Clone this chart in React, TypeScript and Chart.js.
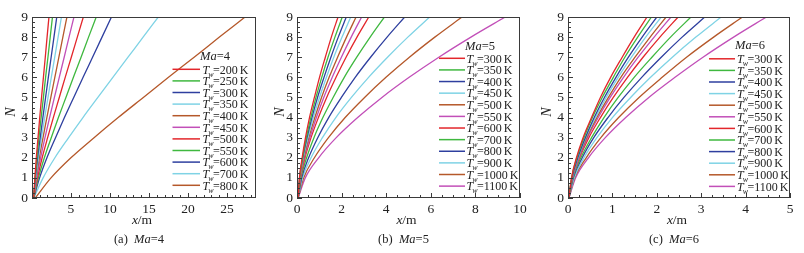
import React, { useEffect, useRef } from 'react';
import { Chart, registerables } from 'chart.js';

Chart.register(...registerables);

const FONT = '"Liberation Serif", "Times New Roman", serif';

// Shared N levels (y values) at which each curve's x position was read
const N_LEVELS = [0, 1, 2, 3, 4, 5, 6, 7, 8, 9];
const Y_TICKS = [0, 1, 2, 3, 4, 5, 6, 7, 8, 9];

const COLORS = ['#e3262b', '#3fb83f', '#2e3f9f', '#7fd3e5', '#b5582a', '#c24fb8'];

// ---- (a) Ma = 4 ----
const MA4_TW = [200, 250, 300, 350, 400, 450, 500, 550, 600, 700, 800];
const MA4_X_TICKS = [5, 10, 15, 20, 25];
const MA4_X = [
  [0.25, 0.40, 0.58, 0.80, 1.02, 1.25, 1.49, 1.73, 1.96, 2.2],
  [0.25, 0.43, 0.66, 0.92, 1.20, 1.49, 1.77, 2.07, 2.36, 2.65],
  [0.25, 0.47, 0.75, 1.08, 1.42, 1.77, 2.12, 2.48, 2.84, 3.2],
  [0.25, 0.52, 0.85, 1.24, 1.65, 2.08, 2.50, 2.94, 3.37, 3.8],
  [0.25, 0.57, 0.97, 1.44, 1.93, 2.44, 2.95, 3.47, 3.98, 4.5],
  [0.25, 0.64, 1.13, 1.69, 2.28, 2.90, 3.52, 4.15, 4.77, 5.4],
  [0.25, 0.73, 1.33, 2.03, 2.76, 3.52, 4.28, 5.06, 5.83, 6.6],
  [0.25, 0.85, 1.61, 2.49, 3.41, 4.37, 5.33, 6.31, 7.27, 8.25],
  [0.25, 1.00, 1.94, 3.04, 4.18, 5.37, 6.57, 7.78, 8.99, 10.2],
  [0.25, 1.45, 2.96, 4.72, 6.55, 8.46, 10.38, 12.32, 14.25, 16.2],
  [0.45, 2.46, 5.01, 7.97, 11.06, 14.28, 17.50, 20.78, 24.02, 27.3],
];

// ---- (b) Ma = 5 ----
const MA5_TW = [300, 350, 400, 450, 500, 550, 600, 700, 800, 900, 1000, 1100];
const MA5_X_TICKS = [0, 2, 4, 6, 8, 10];
const MA5_X = [
  [0.05, 0.11, 0.23, 0.38, 0.56, 0.78, 1.01, 1.27, 1.54, 1.84],
  [0.05, 0.12, 0.25, 0.42, 0.62, 0.85, 1.11, 1.39, 1.70, 2.03],
  [0.05, 0.12, 0.26, 0.45, 0.67, 0.92, 1.21, 1.52, 1.85, 2.21],
  [0.05, 0.13, 0.28, 0.49, 0.73, 1.01, 1.32, 1.65, 2.02, 2.41],
  [0.05, 0.14, 0.31, 0.53, 0.80, 1.10, 1.44, 1.82, 2.22, 2.65],
  [0.05, 0.15, 0.33, 0.58, 0.87, 1.20, 1.58, 1.99, 2.43, 2.9],
  [0.05, 0.16, 0.36, 0.63, 0.96, 1.33, 1.75, 2.20, 2.69, 3.22],
  [0.05, 0.18, 0.43, 0.76, 1.16, 1.62, 2.12, 2.68, 3.28, 3.92],
  [0.05, 0.21, 0.52, 0.93, 1.42, 1.99, 2.61, 3.30, 4.04, 4.83],
  [0.05, 0.25, 0.63, 1.14, 1.74, 2.44, 3.21, 4.06, 4.97, 5.95],
  [0.05, 0.30, 0.78, 1.41, 2.16, 3.03, 3.99, 5.04, 6.18, 7.4],
  [0.05, 0.37, 0.97, 1.76, 2.72, 3.81, 5.03, 6.36, 7.80, 9.34],
];

// ---- (c) Ma = 6 ----
const MA6_TW = [300, 350, 400, 450, 500, 550, 600, 700, 800, 900, 1000, 1100];
const MA6_X_TICKS = [0, 1, 2, 3, 4, 5];
const MA6_X = [
  [0.02, 0.08, 0.19, 0.34, 0.53, 0.73, 0.96, 1.22, 1.49, 1.78],
  [0.02, 0.08, 0.20, 0.36, 0.55, 0.77, 1.02, 1.28, 1.57, 1.88],
  [0.02, 0.09, 0.22, 0.39, 0.59, 0.82, 1.08, 1.36, 1.67, 2.0],
  [0.02, 0.09, 0.23, 0.40, 0.62, 0.86, 1.13, 1.43, 1.75, 2.1],
  [0.02, 0.09, 0.24, 0.42, 0.65, 0.91, 1.19, 1.51, 1.85, 2.21],
  [0.02, 0.10, 0.25, 0.44, 0.68, 0.95, 1.25, 1.58, 1.94, 2.32],
  [0.02, 0.10, 0.26, 0.47, 0.73, 1.02, 1.34, 1.69, 2.07, 2.48],
  [0.02, 0.11, 0.29, 0.53, 0.81, 1.13, 1.49, 1.89, 2.31, 2.77],
  [0.02, 0.12, 0.32, 0.58, 0.90, 1.26, 1.66, 2.10, 2.57, 3.08],
  [0.02, 0.14, 0.36, 0.65, 1.00, 1.41, 1.86, 2.35, 2.88, 3.45],
  [0.02, 0.15, 0.41, 0.74, 1.14, 1.60, 2.12, 2.67, 3.28, 3.93],
  [0.02, 0.17, 0.46, 0.84, 1.30, 1.82, 2.41, 3.04, 3.73, 4.47],
];

const H = 253;

type Seg = { t: string; it?: boolean; sz: number; dy?: number; dx?: number };

function drawRich(ctx: CanvasRenderingContext2D, x: number, y: number, segs: Seg[], align: 'left' | 'center') {
  let w = 0;
  for (const s of segs) {
    ctx.font = `${s.it ? 'italic ' : ''}${s.sz}px ${FONT}`;
    w += ctx.measureText(s.t).width + (s.dx || 0);
  }
  let cx = align === 'center' ? x - w / 2 : x;
  ctx.textAlign = 'left';
  ctx.textBaseline = 'alphabetic';
  for (const s of segs) {
    ctx.font = `${s.it ? 'italic ' : ''}${s.sz}px ${FONT}`;
    cx += s.dx || 0;
    ctx.fillText(s.t, cx, y + (s.dy || 0));
    cx += ctx.measureText(s.t).width;
  }
}

type Panel = {
  id: string;
  left: number;
  width: number;
  plot: [number, number, number, number];
  xMin: number;
  xMax: number;
  xTicks: number[];
  xMinorStep: number;
  mach: string;
  letter: string;
  tw: number[];
  xs: number[][];
  leg: { titleX: number; titleY: number; y0: number; dy: number; lx0: number; lx1: number; tx: number };
  nX: number;
};

const PANELS: Panel[] = [
  {
    id: 'a', left: 0, width: 268, plot: [32, 17, 256, 198],
    xMin: 0.03, xMax: 28.7, xTicks: MA4_X_TICKS, xMinorStep: 1,
    mach: '4', letter: 'a', tw: MA4_TW, xs: MA4_X,
    leg: { titleX: 200, titleY: 55.5, y0: 69.3, dy: 11.6, lx0: 172.5, lx1: 200, tx: 202.5 },
    nX: 11,
  },
  {
    id: 'b', left: 268, width: 268, plot: [297, 17, 520, 198],
    xMin: 0, xMax: 10, xTicks: MA5_X_TICKS, xMinorStep: 0.5,
    mach: '5', letter: 'b', tw: MA5_TW, xs: MA5_X,
    leg: { titleX: 465, titleY: 45.5, y0: 58.3, dy: 11.62, lx0: 439, lx1: 465, tx: 466.5 },
    nX: 280,
  },
  {
    id: 'c', left: 536, width: 268, plot: [568, 17, 790, 198],
    xMin: 0, xMax: 5, xTicks: MA6_X_TICKS, xMinorStep: 0.25,
    mach: '6', letter: 'c', tw: MA6_TW, xs: MA6_X,
    leg: { titleX: 735, titleY: 44.5, y0: 58.8, dy: 11.6, lx0: 709, lx1: 735, tx: 737 },
    nX: 547,
  },
];

function makeDecor(p: Panel) {
  return {
    id: 'decor' + p.id,
    afterDraw(chart: any) {
      const ctx: CanvasRenderingContext2D = chart.ctx;
      const ca = chart.chartArea;
      const xs = chart.scales.x;
      const ys = chart.scales.y;
      const off = p.left;
      ctx.save();
      // frame
      ctx.strokeStyle = '#3a3a3a';
      ctx.lineWidth = 1;
      ctx.strokeRect(ca.left + 0.5, ca.top + 0.5, ca.right - ca.left - 1, ca.bottom - ca.top - 1);
      // inward ticks
      ctx.beginPath();
      for (let k = 0; k <= 36; k++) {
        const v = k * 0.25;
        const y = Math.round(ys.getPixelForValue(v)) + 0.5;
        const len = k % 4 === 0 ? 5 : 3;
        ctx.moveTo(ca.left, y);
        ctx.lineTo(ca.left + len, y);
      }
      const nMinor = Math.round(p.xMax / p.xMinorStep);
      for (let k = 0; k <= nMinor; k++) {
        const v = k * p.xMinorStep;
        if (v < p.xMin || v > p.xMax) continue;
        const x = Math.round(xs.getPixelForValue(v)) + 0.5;
        const major = p.xTicks.some((t) => Math.abs(t - v) < 1e-6);
        const len = major ? 5 : 3;
        ctx.moveTo(x, ca.bottom);
        ctx.lineTo(x, ca.bottom - len);
      }
      ctx.stroke();

      ctx.fillStyle = '#222';
      // y axis title N
      ctx.save();
      ctx.translate(p.nX - off, 112);
      ctx.rotate(-Math.PI / 2);
      ctx.font = `italic 14px ${FONT}`;
      ctx.textAlign = 'center';
      ctx.textBaseline = 'middle';
      ctx.fillText('N', 0, 0);
      ctx.restore();

      const cxp = (ca.left + ca.right) / 2;
      // x axis title
      drawRich(ctx, cxp - 2, 224, [{ t: 'x', it: true, sz: 13.5 }, { t: '/m', sz: 13.5 }], 'center');
      // caption
      drawRich(ctx, cxp - 5, 242.5, [
        { t: `(${p.letter})  `, sz: 12.5 },
        { t: 'Ma', it: true, sz: 12.5 },
        { t: `=${p.mach}`, sz: 12.5 },
      ], 'center');

      // legend
      const L = p.leg;
      drawRich(ctx, L.titleX - off, L.titleY + 4.5, [
        { t: 'Ma', it: true, sz: 12.5 },
        { t: `=${p.mach}`, sz: 12.5 },
      ], 'left');
      p.tw.forEach((t, i) => {
        const y = L.y0 + i * L.dy;
        ctx.strokeStyle = COLORS[i % COLORS.length];
        ctx.lineWidth = 1.5;
        ctx.beginPath();
        ctx.moveTo(L.lx0 - off, y);
        ctx.lineTo(L.lx1 - off, y);
        ctx.stroke();
        ctx.fillStyle = '#222';
        drawRich(ctx, L.tx - off, y + 4.2, [
          { t: 'T', it: true, sz: 12 },
          { t: 'w', it: true, sz: 8, dy: 3, dx: -1 },
          { t: `=${t}`, sz: 12, dx: -0.5 },
          { t: ' K', sz: 12, dx: -1 },
        ], 'left');
      });
      ctx.restore();
    },
  };
}

function PanelChart({ p }: { p: Panel }) {
  const ref = useRef<HTMLCanvasElement>(null);
  useEffect(() => {
    const canvas = ref.current;
    if (!canvas) return;
    const datasets = p.xs.map((row, i) => ({
      label: `Tw=${p.tw[i]} K`,
      data: row.map((x, k) => ({ x, y: N_LEVELS[k] })),
      borderColor: COLORS[i % COLORS.length],
      backgroundColor: COLORS[i % COLORS.length],
      borderWidth: 1.3,
      pointRadius: 0,
      fill: false,
      cubicInterpolationMode: 'monotone' as const,
    }));
    const chart = new Chart(canvas, {
      type: 'line',
      data: { datasets },
      options: {
        animation: false,
        responsive: false,
        devicePixelRatio: 1,
        parsing: false as any,
        layout: {
          padding: { left: 0, top: p.plot[1], right: p.left + p.width - p.plot[2], bottom: 0 },
        },
        plugins: { legend: { display: false }, tooltip: { enabled: false } },
        scales: {
          x: {
            type: 'linear',
            min: p.xMin,
            max: p.xMax,
            afterBuildTicks: (s: any) => {
              s.ticks = p.xTicks.map((v) => ({ value: v }));
            },
            afterFit: (s: any) => {
              s.height = H - p.plot[3];
            },
            ticks: {
              font: { family: FONT, size: 13.5 },
              color: '#222',
              padding: 3,
              autoSkip: false,
              maxRotation: 0,
              callback: (v: any) => String(v),
            },
            grid: { display: false, drawTicks: false },
            border: { display: false },
          },
          y: {
            type: 'linear',
            min: 0,
            max: 9,
            afterBuildTicks: (s: any) => {
              s.ticks = Y_TICKS.map((v) => ({ value: v }));
            },
            afterFit: (s: any) => {
              s.width = p.plot[0] - p.left;
            },
            ticks: {
              font: { family: FONT, size: 13.5 },
              color: '#222',
              padding: 4,
              autoSkip: false,
              callback: (v: any) => String(v),
            },
            grid: { display: false, drawTicks: false },
            border: { display: false },
          },
        },
      },
      plugins: [makeDecor(p)],
    } as any);
    return () => chart.destroy();
  }, [p]);
  return (
    <canvas
      ref={ref}
      width={p.width}
      height={H}
      style={{ position: 'absolute', left: p.left, top: 0, width: p.width, height: H }}
    />
  );
}

export default function App() {
  return (
    <div style={{ position: 'absolute', left: 0, top: 0, width: 804, height: H, background: '#fff' }}>
      {PANELS.map((p) => (
        <PanelChart key={p.id} p={p} />
      ))}
    </div>
  );
}
